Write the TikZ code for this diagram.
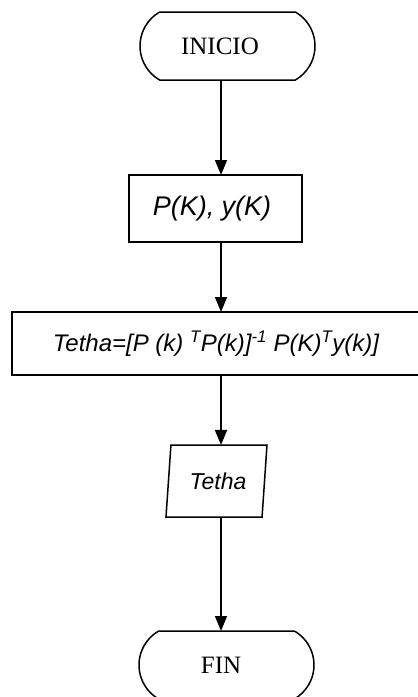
\documentclass[tikz,border=0pt]{standalone}
\usepackage{fontspec}
\setmainfont{Liberation Serif}
\newfontfamily\ars{Liberation Sans}
\usetikzlibrary{shapes.misc,shapes.geometric,arrows.meta}
\begin{document}
\begin{tikzpicture}[x=1pt,y=-1pt,
  every node/.style={inner sep=0pt,outer sep=0pt},
  ln/.style={line width=1.5pt},
  term/.style={ln,draw,rounded rectangle,rounded rectangle arc length=120,
    minimum width=175pt,minimum height=68pt,font=\fontsize{25}{28}\selectfont},
  procbox/.style={ln,draw,rectangle,font=\ars\itshape\fontsize{27}{30}\selectfont},
  iobox/.style={ln,draw,trapezium,trapezium left angle=73.7,trapezium right angle=106.3,
    trapezium stretches body,minimum width=101pt,minimum height=72pt,
    font=\ars\itshape\fontsize{23}{26}\selectfont},
  arr/.style={ln,-{Triangle[length=15pt,width=12pt]}}]
\clip (0,0) rectangle (418,697);
\useasboundingbox (0,0) rectangle (418,697);
\coordinate (sp) at (221,0);
\node[term] (ini) at (227.5,46) {\hspace*{-15pt}INICIO};
\node[procbox,minimum width=173pt,minimum height=67pt] (pk) at (215.5,208.5) {\hspace*{-7pt}P(K), y(K)};
\node[procbox,minimum width=430pt,minimum height=63pt,font=\ars\itshape\fontsize{24}{27}\selectfont] (th) at (227,343.5)
  {\hspace*{-22pt}\raisebox{-3pt}{Tetha=[P (k) \textsuperscript{T}P(k)]\textsuperscript{-1} P(K)\textsuperscript{T}y(k)]}};
\node[iobox] (out) at (216.5,481) {\hspace*{3pt}Tetha};
\node[term] (fin) at (226.5,665) {\hspace*{-11pt}FIN};
\draw[arr] (ini.south -| sp) -- (pk.north -| sp);
\draw[arr] (pk.south -| sp) -- (th.north -| sp);
\draw[arr] (th.south -| sp) -- (out.north -| sp);
\draw[arr] (out.south -| sp) -- (fin.north -| sp);
\end{tikzpicture}
\end{document}
